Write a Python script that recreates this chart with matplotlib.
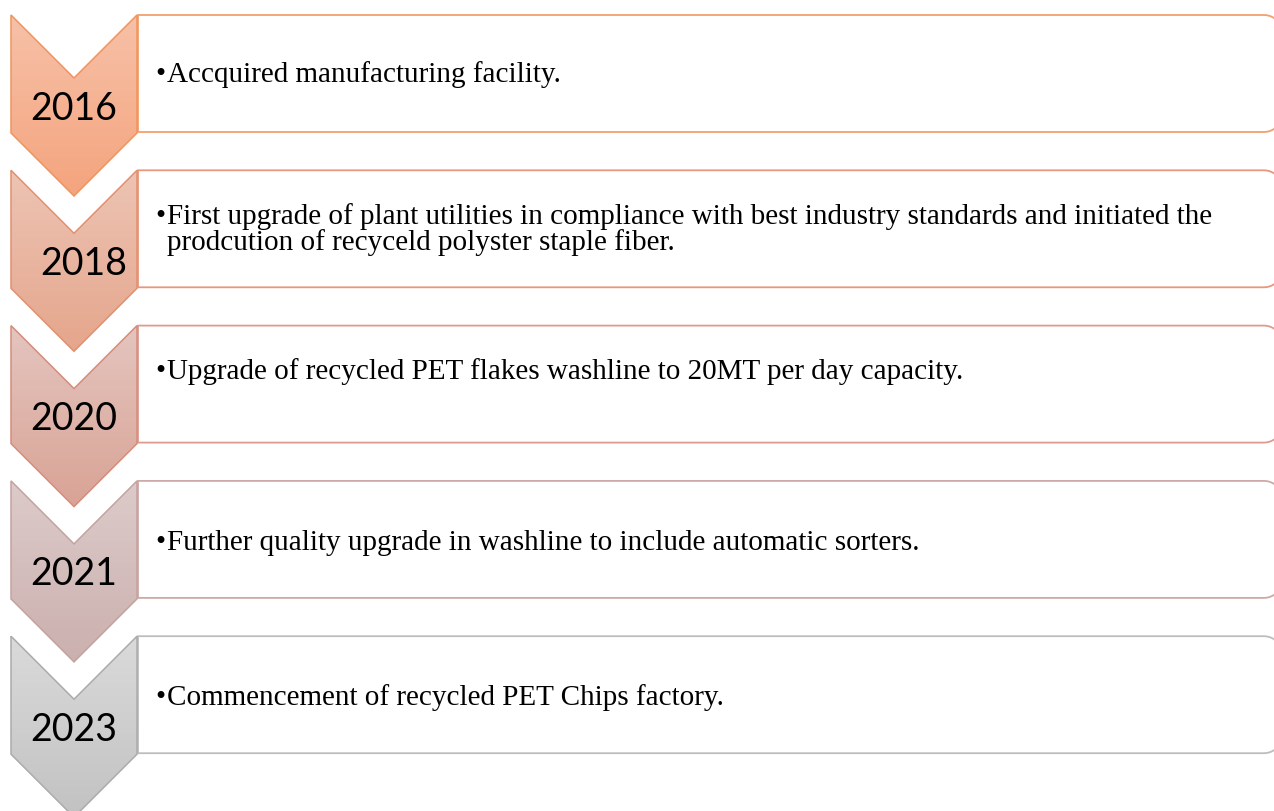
import numpy as np
import matplotlib
matplotlib.use("Agg")
import matplotlib.pyplot as plt
from matplotlib.path import Path
from matplotlib.patches import PathPatch, Polygon

# --- DATA ---
YEARS = ["2016", "2018", "2020", "2021", "2023"]
DESCRIPTIONS = [
    ["Accquired manufacturing facility."],
    ["First upgrade of plant utilities in compliance with best industry standards and initiated the",
     "prodcution of recyceld polyster staple fiber."],
    ["Upgrade of recycled PET flakes washline to 20MT per day capacity."],
    ["Further quality upgrade in washline to include automatic sorters."],
    ["Commencement of recycled PET Chips factory."],
]

# --- STYLE / LAYOUT ---
CHEV_TOP = ["#F7C1A8", "#EDC4B4", "#E4C5BF", "#DCCBCA", "#DADADA"]
CHEV_BOT = ["#F4A47E", "#E5A68C", "#D9A395", "#CBB0AE", "#C2C2C2"]
CHEV_EDGE = ["#F0945E", "#E2906F", "#D68C7C", "#C3A3A0", "#ABABAB"]
BOX_EDGE = ["#F2A06C", "#E7987C", "#DC9C90", "#CDAAA7", "#BDBDBD"]

W, H = 1274, 812
STEP = 155.3
TOP0 = 16
X0, X1 = 11, 137
NOTCH = 63
RECT_H = 118
BOX_R = 1282
RAD = 18
TEXT_OFF = [66, 53, 52, 68, 68]   # baseline of first line below box top
YEAR_DX = [0, 10, 0, 0, 0]
LINE_GAP = 26
BODY_FS = 21

fig = plt.figure(figsize=(W / 100, H / 100), dpi=100)
ax = fig.add_axes([0, 0, 1, 1])
ax.set_xlim(0, W)
ax.set_ylim(H, 0)
ax.axis("off")


def box_path(x0, top, bottom, right, r):
    t = np.linspace(0, np.pi / 2, 12)
    verts = [(x0, top), (right - r, top)]
    # top-right corner
    verts += [(right - r + r * np.sin(a), top + r - r * np.cos(a)) for a in t]
    verts += [(right, bottom - r)]
    # bottom-right corner
    verts += [(right - r + r * np.cos(a), bottom - r + r * np.sin(a)) for a in t]
    verts += [(x0, bottom), (x0, top)]
    return Path(verts, closed=True)


for i, year in enumerate(YEARS):
    top = TOP0 + i * STEP
    xc = (X0 + X1) / 2

    # description box (square left, rounded right)
    bottom = top + RECT_H - 1
    patch = PathPatch(box_path(X1 + 1, top, bottom, BOX_R, RAD),
                      facecolor="white", edgecolor=BOX_EDGE[i], lw=1.3, zorder=1)
    ax.add_patch(patch)

    # chevron with vertical gradient
    pts = [(X0, top), (xc, top + NOTCH), (X1, top), (X1, top + RECT_H),
           (xc, top + RECT_H + NOTCH), (X0, top + RECT_H)]
    poly = Polygon(pts, closed=True, facecolor="none", edgecolor=CHEV_EDGE[i],
                   lw=1.1, zorder=3)
    ax.add_patch(poly)
    c0 = np.array(matplotlib.colors.to_rgb(CHEV_TOP[i]))
    c1 = np.array(matplotlib.colors.to_rgb(CHEV_BOT[i]))
    f = np.linspace(0, 1, 100)[:, None]
    grad = (c0 * (1 - f) + c1 * f)[:, None, :]
    im = ax.imshow(grad, extent=(X0, X1, top + RECT_H + NOTCH, top),
                   origin="upper", aspect="auto", zorder=2)
    im.set_clip_path(poly)

    ax.text(xc + YEAR_DX[i], top + 103.5, year, fontfamily="Lato", fontsize=27,
            ha="center", va="baseline", color="black", zorder=4)

    # bullet + lines
    base = top + TEXT_OFF[i]
    ax.text(155, base, "\u2022", fontfamily="Liberation Serif", fontsize=BODY_FS,
            ha="left", va="baseline", zorder=4)
    for j, line in enumerate(DESCRIPTIONS[i]):
        ax.text(167, base + j * LINE_GAP, line, fontfamily="Liberation Serif",
                fontsize=BODY_FS, ha="left", va="baseline", zorder=4)

ax.set_xlim(0, W)
ax.set_ylim(H, 0)
fig.savefig("out.png", dpi=100)
